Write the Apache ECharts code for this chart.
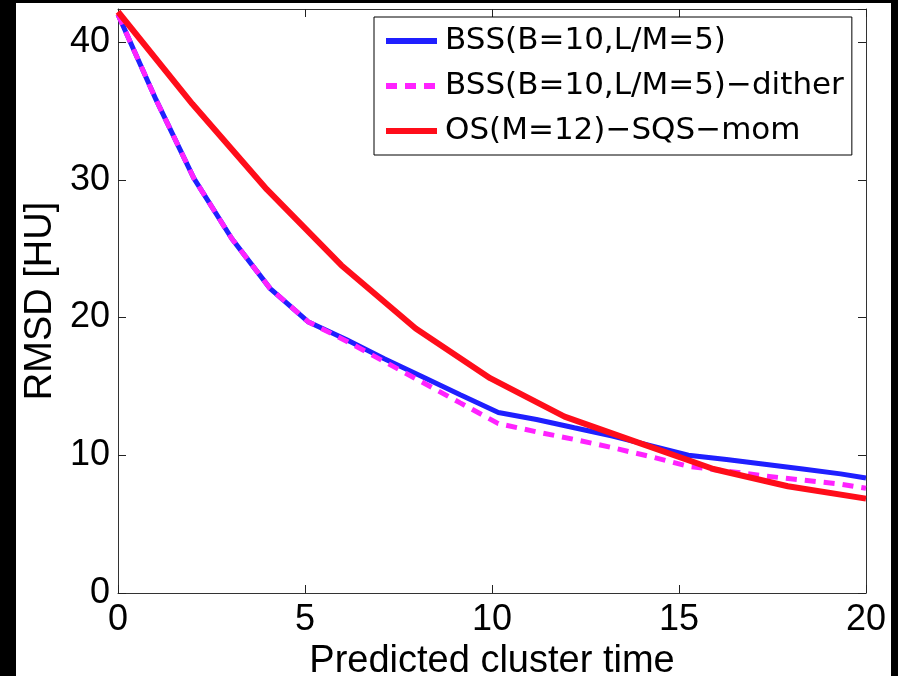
<!DOCTYPE html>
<html lang="en">
<head>
    <meta charset="UTF-8">
    <title>RMSD vs predicted cluster time</title>
    <script src="https://cdn.jsdelivr.net/npm/echarts@6/dist/echarts.min.js"></script>
    <style>
        html, body { margin: 0; padding: 0; background: #000; }
    </style>
</head>
<body>
    <div id="main" style="width: 898px;height:676px;"></div>
    <script type="text/javascript">
        // data
        var bssX = [0, 1.02, 2.03, 3.05, 4.07, 5.08, 6.1, 7.12, 8.14, 9.15, 10.17, 11.19, 12.2, 13.22, 14.24, 15.25, 16.27, 17.29, 18.31, 19.32, 20];
        var bssY = [42.0, 35.8, 30.1, 25.7, 22.1, 19.7, 18.4, 17.0, 15.7, 14.4, 13.1, 12.6, 12.0, 11.4, 10.7, 10.0, 9.7, 9.35, 9.0, 8.65, 8.35];
        var ditherY = [42.0, 35.8, 30.1, 25.7, 22.1, 19.7, 18.3, 16.8, 15.3, 13.8, 12.3, 11.7, 11.15, 10.55, 9.9, 9.2, 8.85, 8.5, 8.2, 7.9, 7.6];
        var osX = [0, 1.99, 3.98, 5.97, 7.96, 9.95, 11.94, 13.93, 15.92, 17.91, 20];
        var osY = [42.2, 35.5, 29.3, 23.8, 19.2, 15.6, 12.8, 10.9, 9.0, 7.75, 6.85];
        var names = ['BSS(B=10,L/M=5)', 'BSS(B=10,L/M=5)\u2212dither', 'OS(M=12)\u2212SQS\u2212mom'];
        var xTicks = [0, 20, 5];   // min, max, interval
        var yTicks = [0, 42.4, 10];

        function pairs(xs, ys) {
            return xs.map(function (x, i) { return [x, ys[i]]; });
        }

        var myChart = echarts.init(document.getElementById('main'));
        var font = 'Liberation Sans';
        var edge = '#333';
        // ticks point into the plot on all four sides
        var tick = { show: true, inside: true, length: 8, lineStyle: { color: '#222', width: 1 } };

        var option = {
            backgroundColor: '#000',
            animation: false,
            graphic: [{
                type: 'rect', z: -10, silent: true,
                shape: { x: 16, y: 3, width: 875, height: 673 },
                style: { fill: '#fff' }
            }],
            grid: {
                left: 118, right: 32, top: 9, bottom: 83,
                outerBoundsMode: 'none', containLabel: false,
                show: true, backgroundColor: '#fff', borderWidth: 0
            },
            legend: {
                orient: 'vertical',
                left: 374, top: 17,
                padding: [8, 8, 8, 9],
                itemGap: 13,
                itemWidth: 51, itemHeight: 6,
                backgroundColor: '#fff',
                borderColor: '#000', borderWidth: 1,
                lineStyle: { width: 6 },
                textStyle: { fontFamily: 'DejaVu Sans', fontSize: 31, color: '#000', lineHeight: 32, padding: [0, 0, 0, 3] },
                data: names
            },
            xAxis: [{
                type: 'value', position: 'bottom',
                min: xTicks[0], max: xTicks[1], interval: xTicks[2],
                name: 'Predicted cluster time', nameLocation: 'middle', nameGap: 41,
                nameTextStyle: { fontFamily: font, fontSize: 38, color: '#000' },
                axisLine: { onZero: false, lineStyle: { color: edge, width: 1 } },
                axisTick: tick,
                axisLabel: { fontFamily: font, fontSize: 36, color: '#000', margin: 9 },
                splitLine: { show: false }
            }, {
                type: 'value', position: 'top',
                min: xTicks[0], max: xTicks[1], interval: xTicks[2],
                axisLine: { show: true, onZero: false, lineStyle: { color: edge, width: 1 } },
                axisTick: tick,
                axisLabel: { show: false },
                splitLine: { show: false }
            }],
            yAxis: [{
                type: 'value', position: 'left',
                min: yTicks[0], max: yTicks[1], interval: yTicks[2],
                name: 'RMSD [HU]', nameLocation: 'middle', nameGap: 58,
                nameTextStyle: { fontFamily: font, fontSize: 38, color: '#000' },
                axisLine: { show: true, onZero: false, lineStyle: { color: edge, width: 1 } },
                axisTick: tick,
                axisLabel: { fontFamily: font, fontSize: 36, color: '#000', margin: 8, showMaxLabel: false },
                splitLine: { show: false }
            }, {
                type: 'value', position: 'right',
                min: yTicks[0], max: yTicks[1], interval: yTicks[2],
                axisLine: { show: true, onZero: false, lineStyle: { color: edge, width: 1 } },
                axisTick: tick,
                axisLabel: { show: false },
                splitLine: { show: false }
            }],
            series: [
                {
                    name: names[0], type: 'line', symbol: 'none',
                    data: pairs(bssX, bssY),
                    lineStyle: { color: '#1f1fff', width: 5 },
                    itemStyle: { color: '#1f1fff' }
                },
                {
                    name: names[1], type: 'line', symbol: 'none',
                    data: pairs(bssX, ditherY),
                    lineStyle: { color: '#ff22ff', width: 5, type: [11, 8] },
                    itemStyle: { color: '#ff22ff' }
                },
                {
                    name: names[2], type: 'line', symbol: 'none',
                    data: pairs(osX, osY),
                    lineStyle: { color: '#ff0d1a', width: 6 },
                    itemStyle: { color: '#ff0d1a' }
                }
            ]
        };

        myChart.setOption(option);
    </script>
</body>
</html>
